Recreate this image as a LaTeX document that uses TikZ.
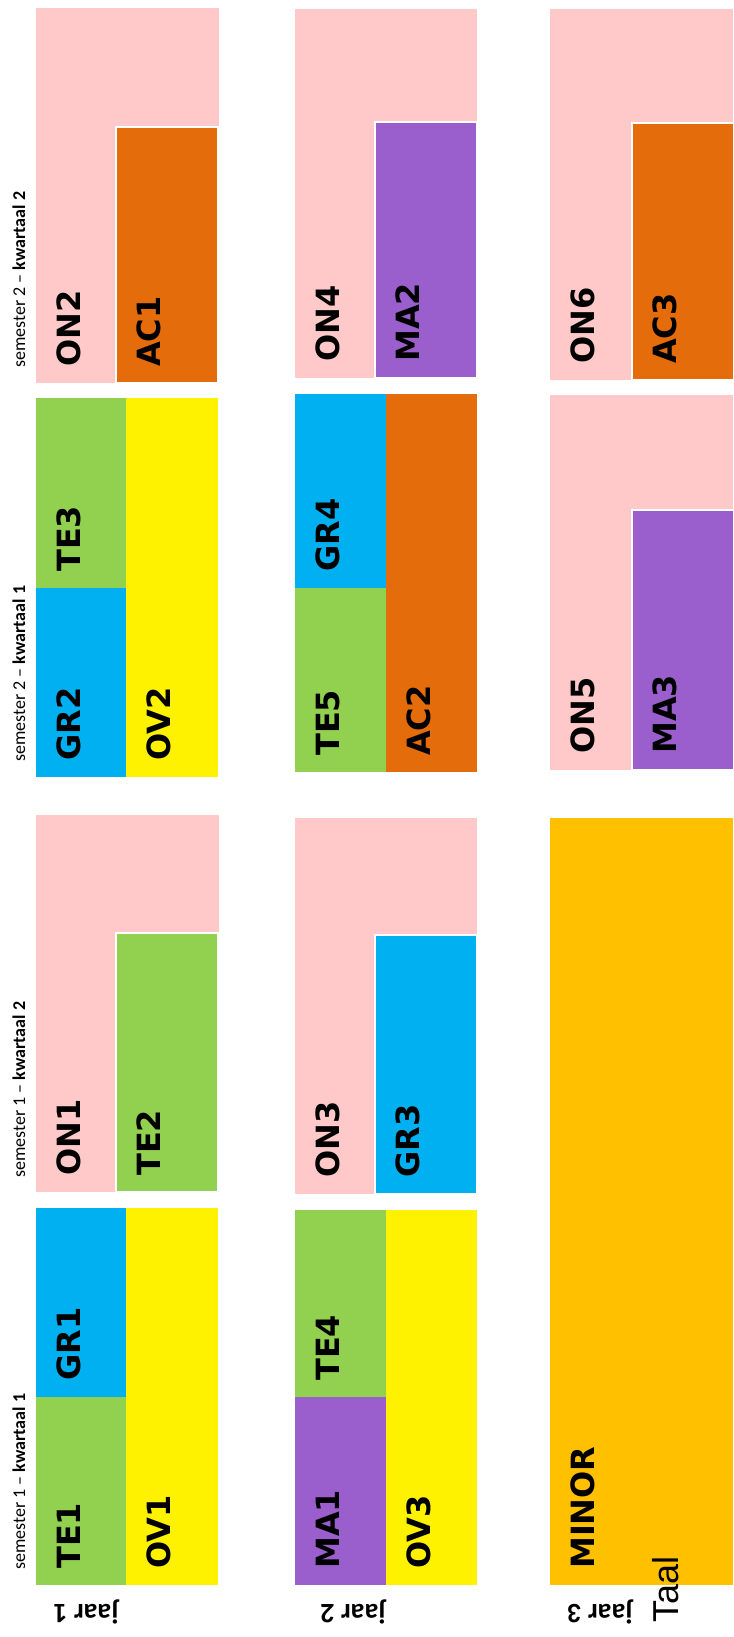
\documentclass[tikz,border=0pt]{standalone}
\usepackage{fontspec}
\setmainfont{DejaVu Sans}
\newfontfamily\boxfont{DejaVu Sans}
\newfontfamily\calfont{Carlito}
\newfontfamily\taalfont{Liberation Sans}
\definecolor{pinkc}{RGB}{255,201,201}
\definecolor{greenc}{RGB}{146,208,80}
\definecolor{bluec}{RGB}{0,176,240}
\definecolor{yellowc}{RGB}{255,242,0}
\definecolor{orangec}{RGB}{228,108,10}
\definecolor{purplec}{RGB}{155,95,205}
\definecolor{minorc}{RGB}{255,192,0}
\begin{document}
\begin{tikzpicture}[x=1pt,y=-1pt,
  lab/.style={rotate=90, anchor=north west, inner sep=0pt, text=black,
    font=\boxfont\bfseries\fontsize{32}{36}\selectfont},
  semlab/.style={rotate=90, anchor=base west, inner sep=0pt, text=black,
    font=\calfont\fontsize{18}{20}\selectfont},
  jaarlab/.style={rotate=180, anchor=base, inner sep=0pt, text=black,
    font=\calfont\bfseries\fontsize{28}{30}\selectfont},
  inner/.style={draw=white, line width=1.5pt}]
\useasboundingbox (0,0) rectangle (733,1637);
\fill[white] (0,0) rectangle (733,1637);

% ---------- Row A : semester 2 - kwartaal 2 ----------
\fill[pinkc] (36,8) rectangle (219,383);
\filldraw[fill=orangec, inner] (116,127) rectangle (218,383);
\fill[pinkc] (295,9) rectangle (477,378);
\filldraw[fill=purplec, inner] (375,122) rectangle (477,378);
\fill[pinkc] (550,9) rectangle (733,380);
\filldraw[fill=orangec, inner] (632,123) rectangle (734,380);

% ---------- Row B : semester 2 - kwartaal 1 ----------
\fill[greenc] (36,398) rectangle (126,588);
\fill[bluec] (36,588) rectangle (126,777);
\fill[yellowc] (126,398) rectangle (218,777);
\fill[bluec] (295,394) rectangle (386,588);
\fill[greenc] (295,588) rectangle (386,772);
\fill[orangec] (386,394) rectangle (477,772);
\fill[pinkc] (550,395) rectangle (733,770);
\filldraw[fill=purplec, inner] (632,510) rectangle (734,770);

% ---------- Row C : semester 1 - kwartaal 2 ----------
\fill[pinkc] (36,815) rectangle (219,1192);
\filldraw[fill=greenc, inner] (116,933) rectangle (218,1192);
\fill[pinkc] (295,818) rectangle (477,1194);
\filldraw[fill=bluec, inner] (375,935) rectangle (477,1194);

% ---------- Row D : semester 1 - kwartaal 1 ----------
\fill[bluec] (36,1208) rectangle (126,1397);
\fill[greenc] (36,1397) rectangle (126,1585);
\fill[yellowc] (126,1208) rectangle (218,1585);
\fill[greenc] (295,1210) rectangle (386,1397);
\fill[purplec] (295,1397) rectangle (386,1585);
\fill[yellowc] (386,1210) rectangle (477,1585);
\fill[minorc] (550,818) rectangle (733,1585);

% ---------- box labels ----------
\node[lab] (ON2) at (57,367) {ON2};
\node[lab] (AC1) at (137,367) {AC1};
\node[lab] (ON4) at (316,362) {ON4};
\node[lab] (MA2) at (396,362) {MA2};
\node[lab] (ON6) at (571,364) {ON6};
\node[lab] (AC3) at (653,364) {AC3};

\node[lab] (TE3) at (57,572) {TE3};
\node[lab] (GR2) at (57,761) {GR2};
\node[lab] (OV2) at (147,761) {OV2};
\node[lab] (GR4) at (316,572) {GR4};
\node[lab] (TE5) at (316,756) {TE5};
\node[lab] (AC2) at (407,756) {AC2};
\node[lab] (ON5) at (571,754) {ON5};
\node[lab] (MA3) at (653,754) {MA3};

\node[lab] (ON1) at (57,1176) {ON1};
\node[lab] (TE2) at (137,1176) {TE2};
\node[lab] (ON3) at (316,1178) {ON3};
\node[lab] (GR3) at (396,1178) {GR3};

\node[lab] (GR1) at (57,1381) {GR1};
\node[lab] (TE1) at (57,1569) {TE1};
\node[lab] (OV1) at (147,1569) {OV1};
\node[lab] (TE4) at (316,1381) {TE4};
\node[lab] (MA1) at (316,1569) {MA1};
\node[lab] (OV3) at (407,1569) {OV3};
\node[lab] (MINOR) at (571,1569) {MINOR};

% ---------- semester labels ----------
\node[semlab] (s22) at (25,368) {semester 2 – \textbf{kwartaal 2}};
\node[semlab] (s21) at (25,762) {semester 2 – \textbf{kwartaal 1}};
\node[semlab] (s12) at (25,1178) {semester 1 – \textbf{kwartaal 2}};
\node[semlab] (s11) at (25,1570) {semester 1 – \textbf{kwartaal 1}};

% ---------- year labels ----------
\node[jaarlab] (j1) at (86,1604) {jaar 1};
\node[jaarlab] (j2) at (353,1604) {jaar 2};
\node[jaarlab] (j3) at (600,1604) {jaar 3};

\node[rotate=90, anchor=north west, inner sep=0pt,
  font=\taalfont\fontsize{36}{40}\selectfont] (taal) at (652,1623) {Taal};
\end{tikzpicture}
\end{document}
